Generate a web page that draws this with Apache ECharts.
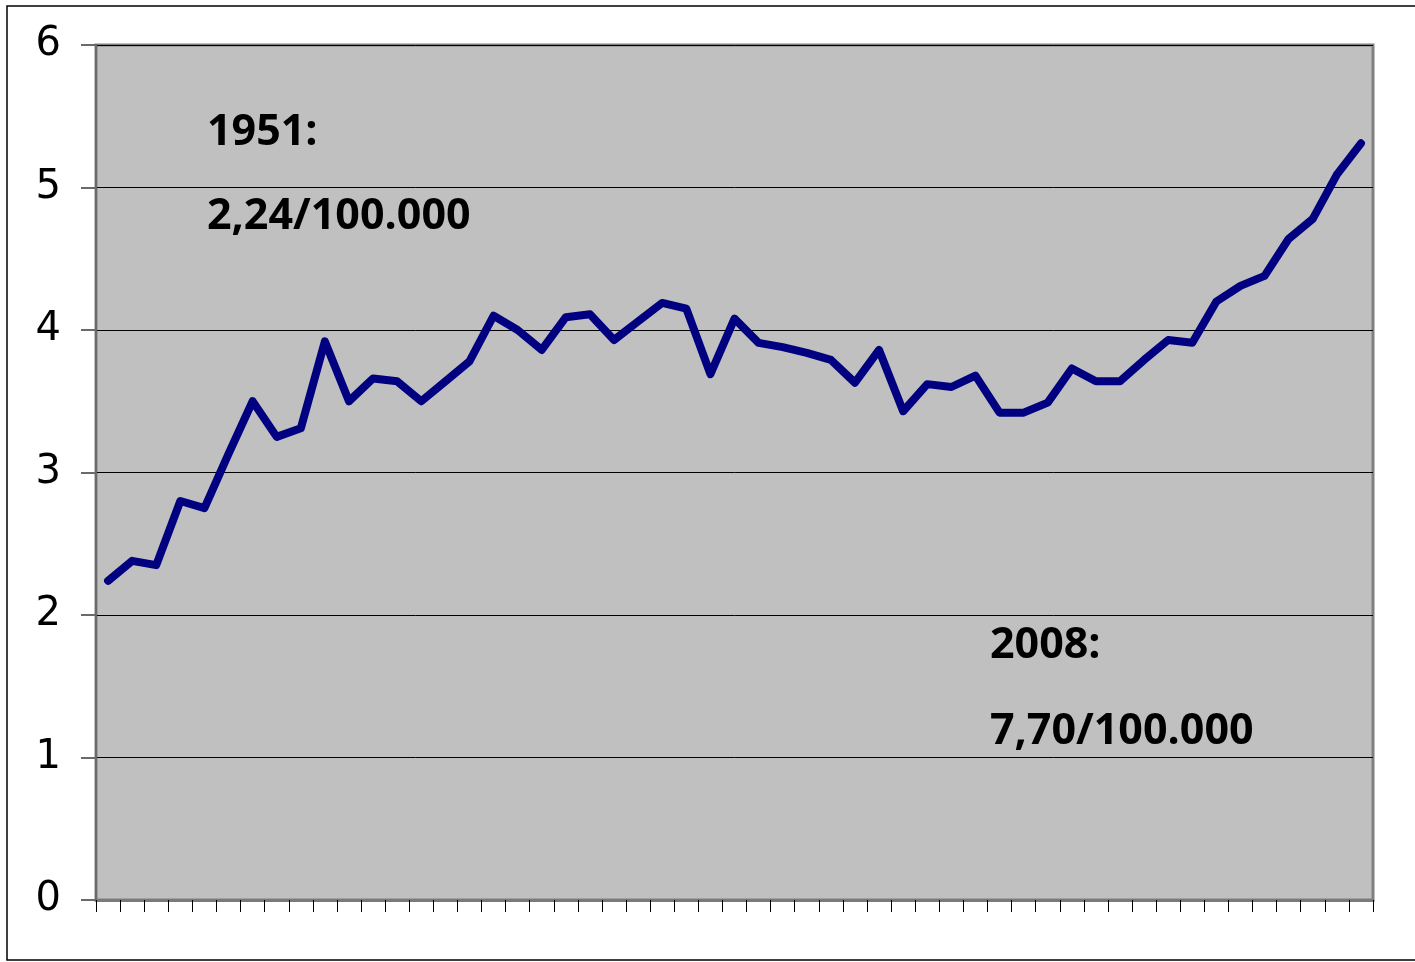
<!DOCTYPE html>
<html>
<head>
<meta charset="utf-8">
<script src="https://cdn.jsdelivr.net/npm/echarts@6/dist/echarts.min.js"></script>
<style>
html,body{margin:0;padding:0;background:#fff;}
#chart{width:1415px;height:962px;}
</style>
</head>
<body>
<div id="chart"></div>
<script>
// 53 yearly points (x-axis carries no labels in the reference)
const categories = Array.from({length: 53}, (_, i) => String(i + 1));
const rateValues = [
  2.24, 2.38, 2.35, 2.80, 2.75, 3.13, 3.50, 3.25, 3.31, 3.92,
  3.50, 3.66, 3.64, 3.50, 3.64, 3.78, 4.10, 4.00, 3.86, 4.09,
  4.11, 3.93, 4.06, 4.19, 4.15, 3.69, 4.08, 3.91, 3.88, 3.84,
  3.79, 3.63, 3.86, 3.43, 3.62, 3.60, 3.68, 3.42, 3.42, 3.49,
  3.73, 3.64, 3.64, 3.79, 3.93, 3.91, 4.20, 4.31, 4.38, 4.64,
  4.78, 5.09, 5.31
];
const yTicks = { min: 0, max: 6, interval: 1 };
const notes = [
  { year: '1951:', rate: '2,24/100.000' },
  { year: '2008:', rate: '7,70/100.000' }
];

const chart = echarts.init(document.getElementById('chart'), null, {renderer: 'canvas'});
const noteFont = 'bold 43px "Open Sans"';
chart.setOption({
  animation: false,
  backgroundColor: '#ffffff',
  grid: {
    left: 96, top: 45, right: 42, bottom: 62,
    show: true,
    backgroundColor: '#c0c0c0',
    borderColor: '#808080',
    borderWidth: 3
  },
  xAxis: {
    type: 'category',
    data: categories,
    boundaryGap: true,
    axisLine: { show: true, lineStyle: { color: '#7a7a7a', width: 3 } },
    axisTick: { show: true, interval: 0, length: 12, lineStyle: { color: '#000', width: 1 } },
    axisLabel: { show: false },
    splitLine: { show: false }
  },
  yAxis: {
    type: 'value',
    min: yTicks.min, max: yTicks.max, interval: yTicks.interval,
    axisLine: { show: true, lineStyle: { color: '#6a6a6a', width: 2 } },
    axisTick: { show: true, length: 15, lineStyle: { color: '#6a6a6a', width: 2 } },
    axisLabel: {
      margin: 35,
      fontFamily: 'DejaVu Sans',
      fontSize: 40,
      color: '#000'
    },
    splitLine: { show: true, lineStyle: { color: '#000', width: 1 } }
  },
  series: [{
    type: 'line',
    data: rateValues,
    showSymbol: false,
    symbol: 'none',
    lineStyle: { color: '#000080', width: 8, cap: 'round', join: 'round' },
    z: 5
  }],
  graphic: [
    { type: 'rect', shape: { x: 7, y: 6, width: 1430, height: 954 },
      style: { fill: 'none', stroke: '#000', lineWidth: 1.5 }, silent: true, z: 100 },
    { type: 'text', left: 207, top: 111, z: 100,
      style: { text: notes[0].year, font: noteFont, fill: '#000' } },
    { type: 'text', left: 207, top: 195, z: 100,
      style: { text: notes[0].rate, font: noteFont, fill: '#000' } },
    { type: 'text', left: 990, top: 624, z: 100,
      style: { text: notes[1].year, font: noteFont, fill: '#000' } },
    { type: 'text', left: 990, top: 710, z: 100,
      style: { text: notes[1].rate, font: noteFont, fill: '#000' } }
  ]
});
</script>
</body>
</html>
